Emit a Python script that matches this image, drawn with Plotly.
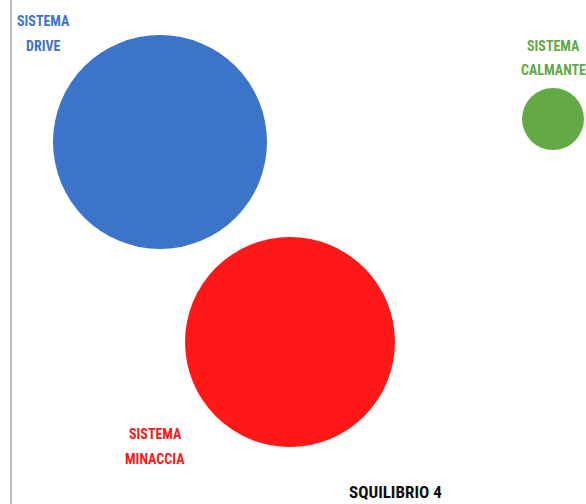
import plotly.graph_objects as go

# Data
systems = ["SISTEMA DRIVE", "SISTEMA MINACCIA", "SISTEMA CALMANTE"]
center_x = [160, 290, 553]
center_y = [142, 342, 119]
diameters = [214, 210, 62]
colors = ["#3C74C9", "#FE1818", "#63A945"]

label_line1 = ["SISTEMA", "SISTEMA", "SISTEMA"]
label_line2 = ["DRIVE", "MINACCIA", "CALMANTE"]
label_x = [43, 155, 553]
label_y1 = [21, 434, 46]
label_y2 = [46, 459, 70]

title_text = "SQUILIBRIO 4"

FONT = "Roboto Condensed, Liberation Sans Narrow, sans-serif"

fig = go.Figure()
fig.add_trace(go.Scatter(
    x=center_x, y=center_y, mode="markers",
    marker=dict(size=diameters, sizemode="diameter", color=colors, opacity=1,
                line=dict(width=0)),
    text=systems, hoverinfo="text", showlegend=False,
))

annotations = []
for i in range(len(systems)):
    for txt, yy in ((label_line1[i], label_y1[i]), (label_line2[i], label_y2[i])):
        annotations.append(dict(
            x=label_x[i], y=yy, xref="x", yref="y", text="<b>" + txt + "</b>",
            showarrow=False, xanchor="center", yanchor="middle",
            font=dict(family=FONT, size=14, color=colors[i]),
        ))
annotations.append(dict(
    x=395, y=492, xref="x", yref="y", text="<b>" + title_text + "</b>",
    showarrow=False, xanchor="center", yanchor="middle",
    font=dict(family=FONT, size=17, color="#111111"),
))

fig.update_layout(
    width=586, height=504,
    margin=dict(l=0, r=0, t=0, b=0),
    paper_bgcolor="white", plot_bgcolor="white",
    xaxis=dict(range=[0, 586], visible=False, fixedrange=True),
    yaxis=dict(range=[504, 0], visible=False, fixedrange=True),
    annotations=annotations,
    shapes=[dict(type="line", xref="x", yref="paper", x0=11, x1=11, y0=0, y1=1,
                 line=dict(color="#BDBDBD", width=2))],
)

fig.write_html(
    "out.html",
    config={"displayModeBar": False},
    post_script="document.body.style.margin='0';document.body.style.overflow='hidden';",
)
